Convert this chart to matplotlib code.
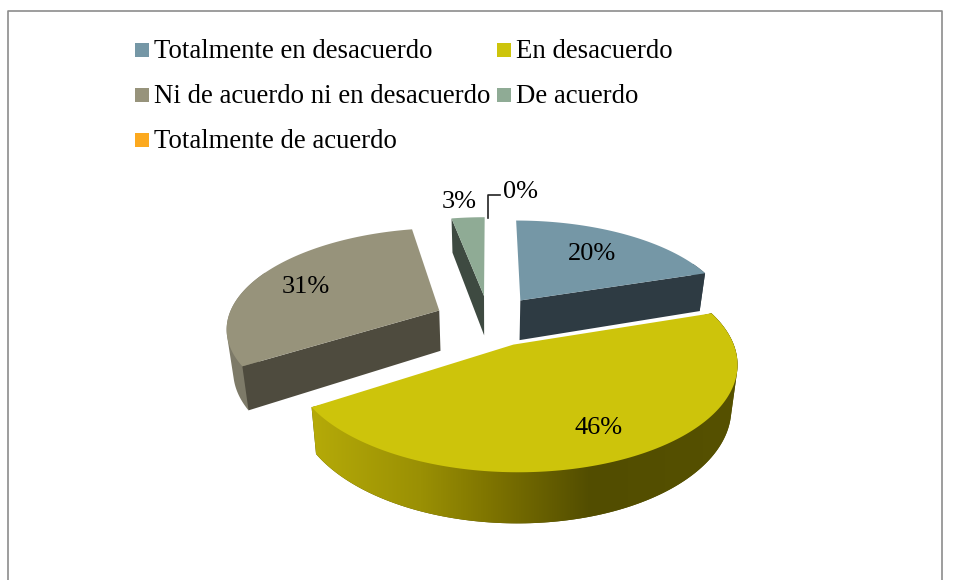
import numpy as np
import matplotlib
matplotlib.use('Agg')
import matplotlib.pyplot as plt
from matplotlib.colors import to_rgb
from matplotlib.patches import Polygon, Rectangle

categories = ['Totalmente en desacuerdo', 'En desacuerdo',
              'Ni de acuerdo ni en desacuerdo', 'De acuerdo',
              'Totalmente de acuerdo']
values = [20, 46, 31, 3, 0]
colors = ['#7597a6', '#cdc40b', '#97937b', '#8fab95', '#fca91e']
wall_colors = ['#2e3b43', '#545000', '#4e4b3e', '#3e4a41', '#fca91e']
rim_colors = ['#3c4d57', '#545000', '#7d7a68', '#3e4a41', '#fca91e']

# pie geometry, pixels
CX, CY = 489, 320.5
K = 212.0       # radius scale
TILT = 0.465    # vertical squash
PERSP = 0.16    # perspective strength
EXPLODE = 0.26
DEPTH = 41.0
BOTTOM_SCALE = 0.975  # bottom of the walls is pulled in a bit

plt.rcParams['font.family'] = ['Liberation Serif', 'DejaVu Serif']

fig = plt.figure(figsize=(9.56, 5.80), dpi=100)
ax = fig.add_axes([0, 0, 1, 1])


def project(u, v, drop=0.0):
    s = 1.0 / (1.0 + PERSP * v)
    shrink = BOTTOM_SCALE if drop > 0 else 1.0
    return CX + K * u * s * shrink, CY - K * TILT * v * s + drop * s


def arc_pts(a0, a1, ou, ov, drop=0.0, n=160):
    th = np.radians(np.linspace(a0, a1, n))
    return project(ou + np.sin(th), ov + np.cos(th), drop)


def convex_hull(pts):
    pts = sorted(map(tuple, pts))

    def half(seq):
        out = []
        for p in seq:
            while len(out) > 1 and ((out[-1][0] - out[-2][0]) * (p[1] - out[-2][1])
                                    - (out[-1][1] - out[-2][1]) * (p[0] - out[-2][0])) <= 0:
                out.pop()
            out.append(p)
        return out[:-1]
    return half(pts) + half(pts[::-1])


def cut_face(ang, ou, ov, col):
    p0 = project(ou, ov)
    p1 = project(ou + np.sin(np.radians(ang)), ov + np.cos(np.radians(ang)))
    p2 = project(ou + np.sin(np.radians(ang)), ov + np.cos(np.radians(ang)), DEPTH)
    p3 = project(ou, ov, DEPTH)
    ax.add_patch(Polygon([p0, p1, p2, p3], fc=col, ec='none'))


def draw_slice(i, a0, a1, face_angle):
    mid = np.radians((a0 + a1) / 2)
    ou, ov = EXPLODE * np.sin(mid), EXPLODE * np.cos(mid)

    # outer rim, hull of the top and bottom arcs so the silhouette stays closed
    lo, hi = max(a0, 65), min(a1, 295)
    if hi > lo:
        xt, yt = arc_pts(lo, hi, ou, ov)
        xb, yb = arc_pts(lo, hi, ou, ov, DEPTH)
        rim = Polygon(convex_hull(np.c_[np.r_[xt, xb], np.r_[yt, yb]]),
                      fc=rim_colors[i], ec='none')
        ax.add_patch(rim)
        if i == 1:
            # yellow rim goes from bright on the left to dark on the right
            stops = [to_rgb(c) for c in ['#b5aa08', '#9a9004', '#7a7000', '#524d00', '#565100']]
            xs = np.arange(300, 750)
            grad = np.stack([np.interp(xs, [313, 420, 500, 590, 740], [c[k] for c in stops])
                             for k in range(3)], axis=-1)[None, :, :]
            im = ax.imshow(grad, extent=(300, 750, 540, 300), aspect='auto', zorder=1)
            im.set_clip_path(rim)

    if face_angle is not None:
        cut_face(face_angle, ou, ov, wall_colors[i])

    # top face
    xa, ya = arc_pts(a0, a1, ou, ov)
    ax_, ay_ = project(ou, ov)
    ax.add_patch(Polygon(np.c_[np.r_[ax_, xa], np.r_[ay_, ya]], fc=colors[i], ec='none'))


angles = np.r_[0, np.cumsum(values)] * 3.6
# back to front, with the cut face that is visible on each slice
draw_slice(3, angles[3], angles[4], angles[3])
draw_slice(0, angles[0], angles[1], angles[1])
draw_slice(2, angles[2], angles[3], angles[2])
draw_slice(1, angles[1], angles[2], None)

# data labels
label_pos = [(592, 260), (599, 434), (306, 293), (459, 208), (521, 198)]
for v, (x, y) in zip(values, label_pos):
    ax.text(x, y, f'{v}%', fontsize=19, ha='center', va='baseline', color='black')
ax.plot([488, 488, 500], [218, 195, 195], color='#222222', lw=1.2)

# legend
leg_pos = [(135, 50), (497, 50), (135, 95), (497, 95), (135, 140)]
for name, col, (x, y) in zip(categories, colors, leg_pos):
    ax.add_patch(Rectangle((x, y - 7), 14, 14, fc=col, ec='none'))
    ax.text(x + 19, y + 8, name, fontsize=19.3, ha='left', va='baseline', color='black')

# chart frame, bottom edge is cut off
ax.plot([8, 8, 942, 942], [580, 11, 11, 580], color='#8c8c8c', lw=1.2)

ax.set_xlim(0, 956)
ax.set_ylim(580, 0)
ax.axis('off')

fig.savefig('out.png', dpi=100)
